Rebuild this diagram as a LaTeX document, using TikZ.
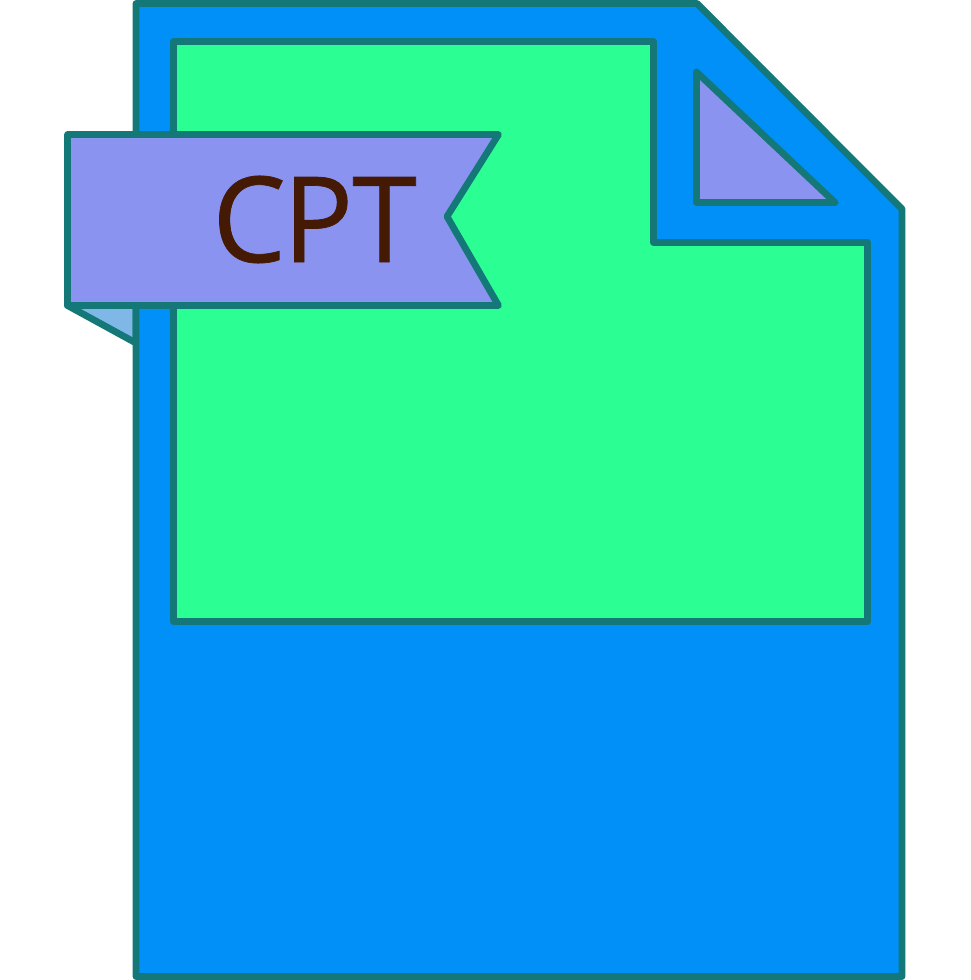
\documentclass[tikz,border=0pt]{standalone}
\usepackage{fontspec}
\setmainfont{Open Sans}
\newfontfamily\labelfont[FakeBold=0.6]{Open Sans}
\definecolor{docblue}{HTML}{0090F8}
\definecolor{docgreen}{HTML}{2BFF94}
\definecolor{edge}{HTML}{147878}
\definecolor{tagpurple}{HTML}{8A94F0}
\definecolor{foldblue}{HTML}{7FB8E6}
\definecolor{inkbrown}{HTML}{451A05}
\tikzset{shapeline/.style={draw=edge,line width=6.8pt,line join=round,line cap=round}}
\begin{document}
\begin{tikzpicture}[x=1pt,y=-1pt]
\useasboundingbox (0,0) rectangle (970,980);
\fill[white] (0,0) rectangle (970,980);
\draw[shapeline,fill=foldblue] (67.5,305.5) -- (136,343) -- (136,305.5) -- cycle;
\draw[shapeline,fill=docblue] (136,3.5) -- (697,3.5) -- (902,209) -- (902,976.5) -- (136,976.5) -- cycle;
\draw[shapeline,fill=docgreen] (173.5,41.5) -- (653.5,41.5) -- (653.5,242.5) -- (867.5,242.5) -- (867.5,621.5) -- (173.5,621.5) -- cycle;
\draw[shapeline,fill=tagpurple] (696.5,72) -- (835,202.5) -- (696.5,202.5) -- cycle;
\draw[shapeline,fill=tagpurple] (67.5,134.5) -- (498.5,134.5) -- (447,216.5) -- (498.5,305.5) -- (67.5,305.5) -- cycle;
\node[text=inkbrown,font=\labelfont\fontsize{119}{119}\selectfont,inner sep=0pt,anchor=base,xscale=0.98] (label) at (314.5,262) {C\kern-3pt P\kern-1pt T};
\end{tikzpicture}
\end{document}
